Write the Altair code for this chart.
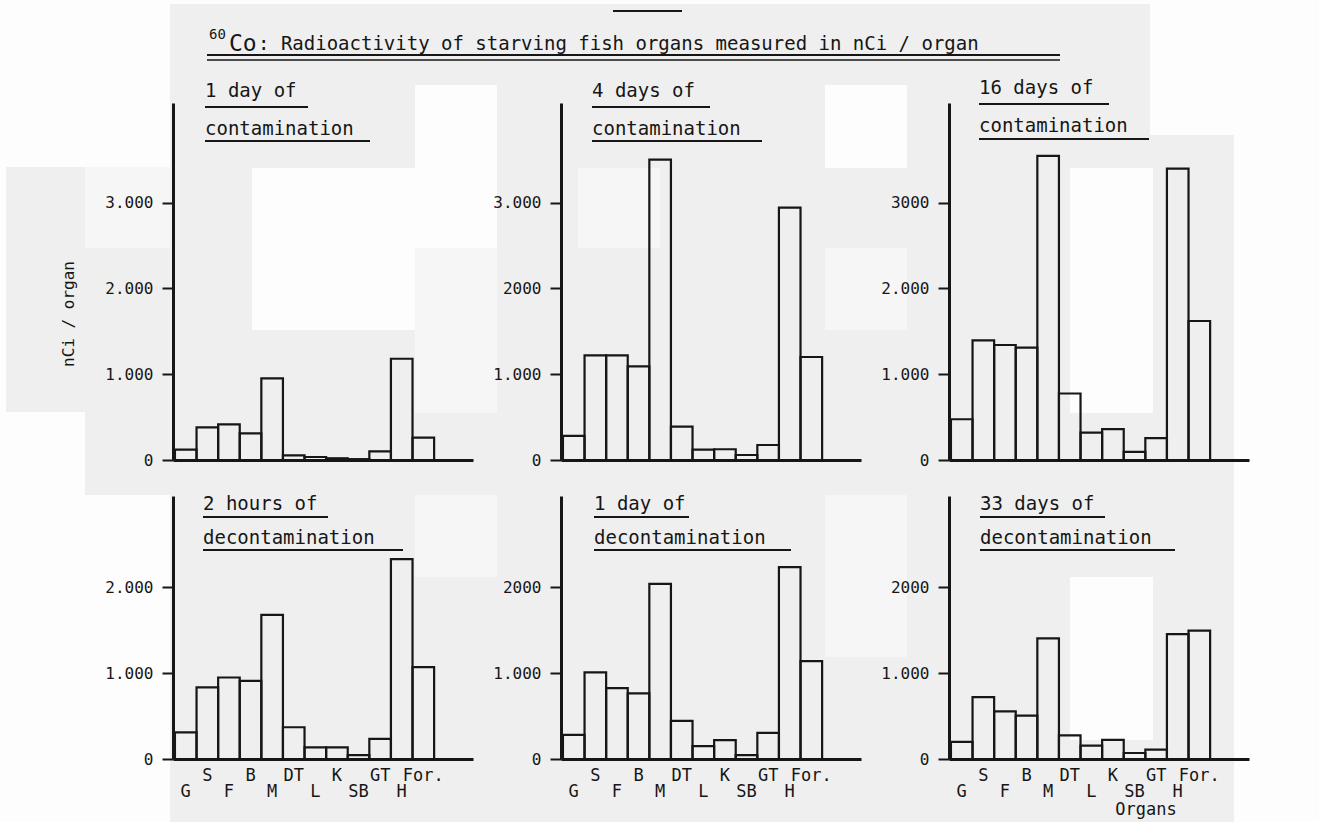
import altair as alt
import pandas as pd

# Organs along the x axis (same order in every panel)
ORGANS = ["G", "S", "F", "B", "M", "DT", "L", "K", "SB", "GT", "H", "For."]

# nCi per organ, one list per exposure time
CONT_1_DAY = [120, 380, 415, 310, 950, 55, 35, 20, 10, 100, 1180, 260]
CONT_4_DAYS = [280, 1220, 1220, 1090, 3500, 390, 120, 125, 58, 175, 2940, 1200]
CONT_16_DAYS = [475, 1395, 1340, 1310, 3545, 775, 320, 360, 95, 255, 3395, 1620]
DECONT_2_HOURS = [310, 835, 950, 910, 1680, 370, 135, 135, 45, 235, 2330, 1070]
DECONT_1_DAY = [280, 1010, 825, 765, 2040, 445, 150, 220, 45, 305, 2235, 1140]
DECONT_33_DAYS = [200, 720, 555, 505, 1405, 275, 155, 222, 70, 110, 1455, 1495]

PANEL_TITLES = [
    ("1 day of", "contamination"),
    ("4 days of", "contamination"),
    ("16 days of", "contamination"),
    ("2 hours of", "decontamination"),
    ("1 day of", "decontamination"),
    ("33 days of", "decontamination"),
]

# tick labels as printed on each panel's y axis
TICK_LABELS = [
    {0: "0", 1000: "1.000", 2000: "2.000", 3000: "3.000"},
    {0: "0", 1000: "1.000", 2000: "2000", 3000: "3.000"},
    {0: "0", 1000: "1.000", 2000: "2.000", 3000: "3000"},
    {0: "0", 1000: "1.000", 2000: "2.000"},
    {0: "0", 1000: "1.000", 2000: "2000"},
    {0: "0", 1000: "1.000", 2000: "2000"},
]

MAIN_TITLE = ": Radioactivity of starving fish organs measured in nCi / organ"
Y_TITLE = "nCi / organ"
X_TITLE = "Organs"

# ---- styling ----
FONT = "DejaVu Sans Mono"
INK = "#161616"
GRAY = "#efefef"
PALE = "#f6f6f6"
WHITE = "#fdfdfd"

PANEL_W = 300
TOP_H, BOTTOM_H = 357, 263
TOP_MAX, BOTTOM_MAX = 4160, 3065
ORIGIN_X, ORIGIN_Y = 173, 103  # page position of the first panel's plot area

# scanned-sheet shading, page coordinates (x1, y1, x2, y2, colour)
SHEET = [
    (0, 0, 1319, 822, WHITE),
    (170, 4, 1150, 822, GRAY),
    (1150, 135, 1234, 822, GRAY),
    (6, 167, 85, 412, GRAY),
    (85, 248, 170, 495, GRAY),
    (85, 167, 170, 248, PALE),
    (252, 168, 415, 330, WHITE),
    (415, 85, 497, 250, WHITE),
    (825, 85, 907, 168, WHITE),
    (1070, 168, 1153, 413, WHITE),
    (1070, 577, 1153, 740, WHITE),
    (578, 168, 660, 248, PALE),
    (415, 248, 497, 413, PALE),
    (825, 248, 907, 330, PALE),
    (415, 495, 497, 577, PALE),
    (825, 495, 907, 657, PALE),
]

ONE = pd.DataFrame({"k": [0]})
XS = alt.Scale(domain=[-0.09, 13.8], nice=False, zero=False)
X_AXIS = alt.Axis(title=None, labels=False, ticks=False, grid=False,
                  domainWidth=3, domainColor=INK, zindex=1)


def text(s, x, y, size, align="left", angle=0, baseline="alphabetic"):
    return alt.Chart(ONE).mark_text(
        text=s, font=FONT, fontSize=size, color=INK, align=align,
        baseline=baseline, angle=angle,
    ).encode(x=alt.value(x), y=alt.value(y))


def hline(x1, x2, y, width=2):
    return alt.Chart(ONE).mark_rule(color=INK, strokeWidth=width).encode(
        x=alt.value(x1), x2=alt.value(x2), y=alt.value(y))


def label_expr(mapping):
    parts = [f"datum.value == {v} ? '{s}'" for v, s in mapping.items()]
    return " : ".join(parts) + " : ''"


def panel(idx, values, lines, ticks, height, ymax, bottom_row):
    df = pd.DataFrame({"organ": ORGANS, "value": values,
                       "pos": list(range(len(ORGANS)))})
    df["end"] = df["pos"] + 1
    df["mid"] = df["pos"] + 0.5
    df["row"] = df["pos"] % 2

    y_axis = alt.Axis(
        title=None, values=list(ticks.keys()), labelExpr=label_expr(ticks),
        grid=False, domainWidth=3, domainColor=INK, tickColor=INK,
        tickWidth=2, tickSize=11, labelPadding=9, labelFont=FONT,
        labelFontSize=16, labelColor=INK, zindex=1,
    )
    bars = alt.Chart(df).mark_rect(
        fillOpacity=0, stroke=INK, strokeWidth=2.2, strokeJoin="miter"
    ).encode(
        x=alt.X("pos:Q", scale=XS, axis=X_AXIS),
        x2="end:Q",
        y=alt.Y("value:Q", scale=alt.Scale(domain=[0, ymax], nice=False),
                axis=y_axis),
        y2=alt.datum(0),
        tooltip=["organ:N", "value:Q"],
    )

    layers = []
    if idx == 0:
        for x1, y1, x2, y2, col in SHEET:
            layers.append(
                alt.Chart(ONE).mark_rect(color=col).encode(
                    x=alt.value(x1 - ORIGIN_X), x2=alt.value(x2 - ORIGIN_X),
                    y=alt.value(y1 - ORIGIN_Y), y2=alt.value(y2 - ORIGIN_Y))
            )
        # figure heading
        layers += [
            hline(613 - ORIGIN_X, 682 - ORIGIN_X, 11 - ORIGIN_Y),
            text("60", 209 - ORIGIN_X, 39 - ORIGIN_Y, 14),
            text("Co", 229 - ORIGIN_X, 51 - ORIGIN_Y, 23),
            text(MAIN_TITLE, 258 - ORIGIN_X, 50 - ORIGIN_Y, 19),
            hline(207 - ORIGIN_X, 1060 - ORIGIN_X, 55 - ORIGIN_Y),
            hline(207 - ORIGIN_X, 1060 - ORIGIN_X, 60 - ORIGIN_Y, 1.5),
            text(Y_TITLE, 69 - ORIGIN_X, 314 - ORIGIN_Y, 16, align="center",
                 angle=270, baseline="middle"),
        ]

    # two-line panel heading with underlines
    ul = [(103, 165), (118, 170), (130, 170), (125, 200), (95, 197), (125, 195)][idx]
    tx = [32, 31, 30, 30, 33, 31][idx]
    if bottom_row:
        b1, u1, b2, u2 = 14, 21, 48, 54
    else:
        b1, u1, b2, u2 = -6, 4, 32, 38
    if idx == 2:
        b1, u1, b2, u2 = b1 - 3, u1 - 3, b2 - 3, u2 - 2
    layers += [
        text(lines[0], tx, b1, 19),
        hline(tx, tx + ul[0], u1),
        text(lines[1], tx, b2, 19),
        hline(tx, tx + ul[1], u2),
    ]

    layers.append(bars)

    if bottom_row:
        for r, dy in ((0, height + 38), (1, height + 22)):
            layers.append(
                alt.Chart(df).transform_filter(alt.datum.row == r).mark_text(
                    font=FONT, fontSize=17, color=INK, baseline="alphabetic"
                ).encode(
                    x=alt.X("mid:Q", scale=XS, axis=X_AXIS),
                    y=alt.value(dy),
                    text="organ:N",
                )
            )
    if idx == 5:
        layers.append(text(X_TITLE, 1146 - 949, height + 56, 17, align="center"))

    return alt.layer(*layers).properties(width=PANEL_W, height=height)


SERIES = [CONT_1_DAY, CONT_4_DAYS, CONT_16_DAYS,
          DECONT_2_HOURS, DECONT_1_DAY, DECONT_33_DAYS]

panels = []
for i, vals in enumerate(SERIES):
    bottom = i >= 3
    panels.append(panel(i, vals, PANEL_TITLES[i], TICK_LABELS[i],
                        BOTTOM_H if bottom else TOP_H,
                        BOTTOM_MAX if bottom else TOP_MAX, bottom))

chart = alt.concat(
    *panels, columns=3, spacing={"row": 36, "column": 88}, bounds="flush"
).properties(
    padding=0, background="white"
).configure_view(strokeWidth=0)

chart.save("out.html", embed_options={"renderer": "svg", "actions": False})
